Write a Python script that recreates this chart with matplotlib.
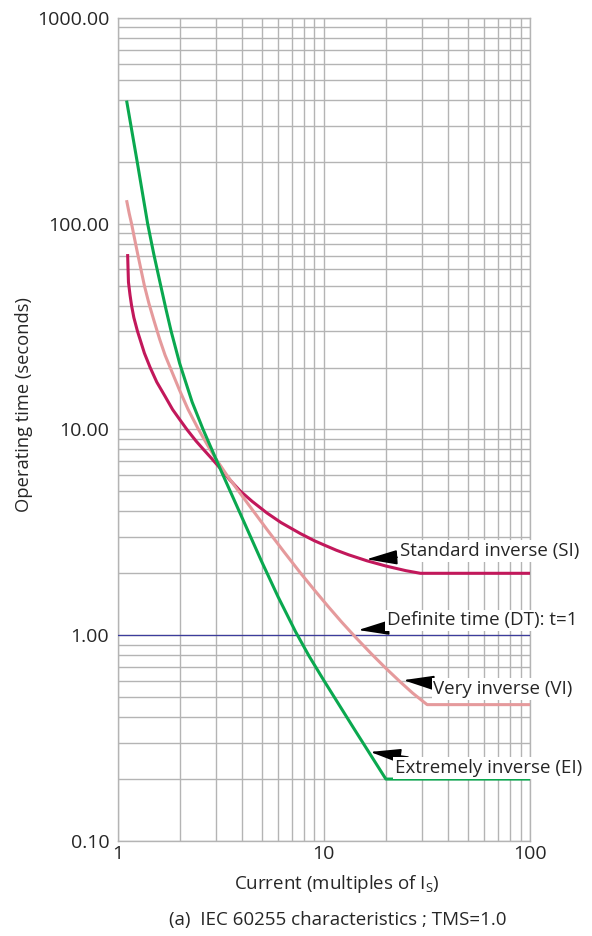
import matplotlib

matplotlib.use("Agg")
import matplotlib.pyplot as plt
from matplotlib.ticker import FixedLocator, LogLocator, NullFormatter


# values (current in multiples of Is, time in s)
si_current = [1.12, 1.125, 1.13, 1.15, 1.17, 1.2, 1.25, 1.3, 1.35, 1.44,
              1.55, 1.7, 1.85, 2.0, 2.17, 2.4, 2.61, 2.87, 3.2, 3.5,
              3.93, 4.5, 5.3, 6.2, 7.7, 9, 10, 11.5, 13.2, 16.2,
              20, 25, 29.4, 100]
si_time = [70, 60, 52, 45, 40, 35, 30, 26.5, 23.5, 20,
           17, 14.5, 12.5, 11.2, 10, 8.8, 8.0, 7.2, 6.35, 5.7,
           5.03, 4.47, 3.93, 3.53, 3.12, 2.88, 2.75, 2.59, 2.46, 2.30,
           2.17, 2.06, 2.0, 2.0]

vi_current = [1.11, 1.14, 1.17, 1.2, 1.25, 1.29, 1.35, 1.42, 1.5, 1.6,
              1.7, 1.8, 2.0, 2.2, 2.47, 2.75, 3.0, 3.39, 3.93, 5.3,
              6.4, 7.7, 9, 10.5, 12.2, 14.2, 17, 20, 23.5, 27,
              31.7, 100]
vi_time = [128, 112, 100, 88, 72, 62, 50, 41, 34, 27.5,
           23, 20, 15.5, 12.5, 10, 8.3, 7.2, 6.0, 4.9, 3.27,
           2.55, 2.01, 1.66, 1.38, 1.16, 0.982, 0.813, 0.691, 0.593, 0.523,
           0.46, 0.46]

ei_current = [1.11, 1.25, 1.4, 1.5, 1.62, 1.72, 1.82, 2.0, 2.3, 2.6,
              3.2, 4.1, 5.0, 6.0, 7.3, 8.5, 10, 14, 20, 100]
ei_time = [390, 196, 100, 71, 50, 38.2, 30, 21, 13.6, 10,
           6.2, 3.56, 2.28, 1.54, 1.04, 0.79, 0.604, 0.352, 0.2, 0.2]

dt_current = [1, 100]
dt_time = [1.0, 1.0]

y_ticks = [0.1, 1, 10, 100, 1000]
x_ticks = [1, 10, 100]

labels = [
    ("Standard inverse (SI)", (16.1, 2.34), (23.5, 2.56)),
    ("Definite time (DT): t=1", (14.7, 1.06), (20.3, 1.18)),
    ("Very inverse (VI)", (24.3, 0.605), (34.0, 0.547)),
    ("Extremely inverse (EI)", (16.8, 0.271), (22.2, 0.226)),
]

plt.rcParams["font.family"] = ["Open Sans", "DejaVu Sans"]
text_color = "#262626"
grid_color = "#b4b4b4"

fig = plt.figure(figsize=(5.92, 9.36), dpi=100)
ax = fig.add_axes([0.1985, 0.1015, 0.6968, 0.8793])

ax.set_xscale("log")
ax.set_yscale("log")
ax.set_xlim(1, 100)
ax.set_ylim(0.1, 1000)

ax.xaxis.set_major_locator(FixedLocator(x_ticks))
ax.yaxis.set_major_locator(FixedLocator(y_ticks))
ax.xaxis.set_minor_locator(LogLocator(base=10, subs=range(2, 10)))
ax.yaxis.set_minor_locator(LogLocator(base=10, subs=range(2, 10)))
ax.xaxis.set_minor_formatter(NullFormatter())
ax.yaxis.set_minor_formatter(NullFormatter())
ax.set_xticklabels([str(v) for v in x_ticks])
ax.set_yticklabels([f"{v:.2f}" for v in y_ticks])

ax.grid(True, which="both", color=grid_color, linewidth=1.0)
ax.tick_params(which="both", length=0, labelsize=14, labelcolor=text_color)
ax.tick_params(axis="y", pad=6)
ax.tick_params(axis="x", pad=3)
for spine in ax.spines.values():
    spine.set_color(grid_color)
    spine.set_linewidth(1.0)

ax.plot(dt_current, dt_time, color="#3c3c9c", lw=0.9, zorder=3)
ax.plot(si_current, si_time, color="#c2185b", lw=2.2, zorder=4)
ax.plot(vi_current, vi_time, color="#e59a9c", lw=2.2, zorder=4)
ax.plot(ei_current, ei_time, color="#0aa84f", lw=2.2, zorder=5)

for text, tip, pos in labels:
    ax.annotate(
        text,
        xy=tip,
        xytext=pos,
        ha="left",
        va="center",
        fontsize=13.5,
        color=text_color,
        bbox=dict(boxstyle="square,pad=0.1", fc="white", ec="none"),
        arrowprops=dict(arrowstyle="-|>,head_length=0.68,head_width=0.16",
                        color="black", lw=1.2, mutation_scale=28,
                        shrinkA=1, shrinkB=0),
        zorder=6,
    )

ax.set_ylabel("Operating time (seconds)", fontsize=13.2, color=text_color)
ax.yaxis.set_label_coords(-0.205, 0.53)
ax.set_xlabel(r"Current (multiples of I$_\mathregular{S}$)", fontsize=13.5,
              color=text_color)
ax.xaxis.set_label_coords(0.532, -0.039)

fig.text(0.571, 0.0171, "(a)  IEC 60255 characteristics ; TMS=1.0",
         ha="center", va="center", fontsize=13.5, color=text_color)

fig.savefig("out.png", dpi=100)
plt.close(fig)
